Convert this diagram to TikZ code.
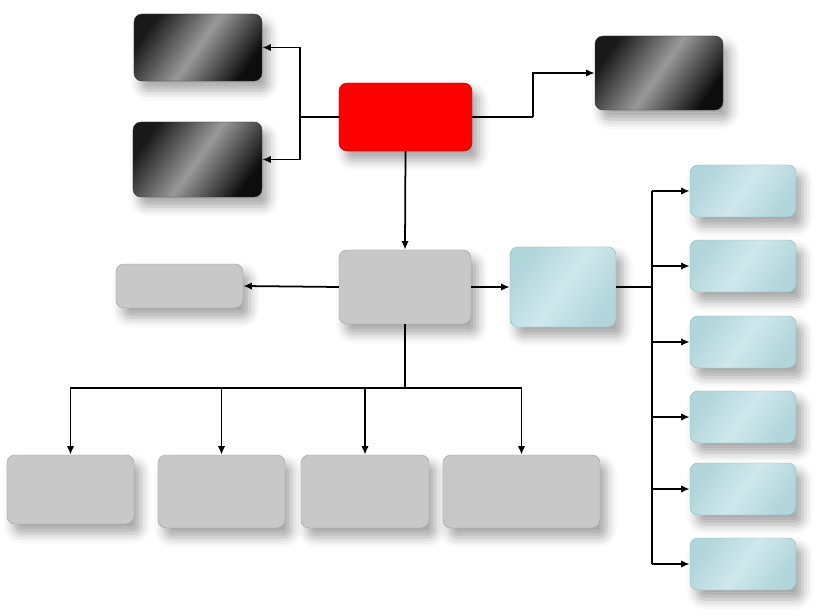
\documentclass[tikz,border=0pt]{standalone}
\usetikzlibrary{arrows.meta,shadows.blur}
\definecolor{boxgray}{RGB}{200,200,200}
\definecolor{boxblue}{RGB}{198,228,232}
\definecolor{boxbluedark}{RGB}{150,195,202}
\tikzset{
  card/.style={rounded corners=0.24cm,inner sep=0pt,
    blur shadow={shadow xshift=0.2cm,shadow yshift=-0.28cm,shadow opacity=35,shadow blur radius=0.3cm}},
  darkbox/.style={card,draw=black!80,line width=0.4pt,
    left color=black!90,right color=black!95,middle color=gray!80,shading angle=55},
  redbox/.style={card,draw=red!70!black,line width=0.4pt,fill=red},
  graybox/.style={card,draw=gray!75,line width=0.4pt,fill=boxgray},
  bluebox/.style={card,draw=boxbluedark!80!gray,line width=0.4pt,
    left color=boxblue!55!boxbluedark,right color=boxblue!55!boxbluedark,middle color=boxblue!85!white,shading angle=55},
  link/.style={line width=1.5pt,black},
  arr/.style={link,-{Latex[length=2.6mm,width=2.2mm]}}
}
\begin{document}
\begin{tikzpicture}[x=0.03cm,y=-0.03cm]
  \useasboundingbox (0,0) rectangle (826,616);
  % top row
  \node[darkbox,minimum width=3.84cm,minimum height=2.01cm] (dA) at (198,47.5) {};
  \node[darkbox,minimum width=3.87cm,minimum height=2.25cm] (dB) at (197.5,159.5) {};
  \node[redbox,minimum width=3.99cm,minimum height=2.04cm] (top) at (405.5,117) {};
  \node[darkbox,minimum width=3.84cm,minimum height=2.22cm] (dC) at (659,73) {};
  % middle row
  \node[graybox,minimum width=3.96cm,minimum height=2.22cm] (mid) at (405,287) {};
  \node[graybox,minimum width=3.81cm,minimum height=1.32cm] (side) at (179.5,286) {};
  \node[bluebox,minimum width=3.18cm,minimum height=2.4cm] (hub) at (563,287) {};
  % right column
  \foreach \y [count=\i] in {191,266,342,417,489,564}
    \node[bluebox,minimum width=3.18cm,minimum height=1.56cm] (r\i) at (743,\y) {};
  % bottom row
  \node[graybox,minimum width=3.81cm,minimum height=2.07cm] (b1) at (70.5,489.5) {};
  \node[graybox,minimum width=3.81cm,minimum height=2.19cm] (b2) at (221.5,491.5) {};
  \node[graybox,minimum width=3.84cm,minimum height=2.19cm] (b3) at (365,491.5) {};
  \node[graybox,minimum width=4.71cm,minimum height=2.19cm] (b4) at (521.5,491.5) {};

  % connectors
  \draw[link] (top.west) -- ++(-39,0) coordinate (jl);
  \draw[arr] (jl) |- (dA.east);
  \draw[arr] (jl) |- (dB.east);
  \draw[link] (top.east) -- ++(61,0) coordinate (jr);
  \draw[arr] (jr) |- (dC.west);
  \draw[arr] (top.south) -- (mid.north);
  \draw[arr] (mid.west) -- (side.east);
  \draw[arr] (mid.east) -- (hub.west);
  \draw[link] (hub.east) -- ++(36,0) coordinate (jh);
  \draw[link] (jh |- r1.west) -- (jh |- r6.west);
  \foreach \i in {1,...,6}
    \draw[arr] (jh |- r\i.west) -- (r\i.west);
  \draw[link] (mid.south) -- ++(0,64) coordinate (jb);
  \foreach \i in {1,...,4}
    \draw[arr] (jb) -| (b\i.north);
\end{tikzpicture}
\end{document}
